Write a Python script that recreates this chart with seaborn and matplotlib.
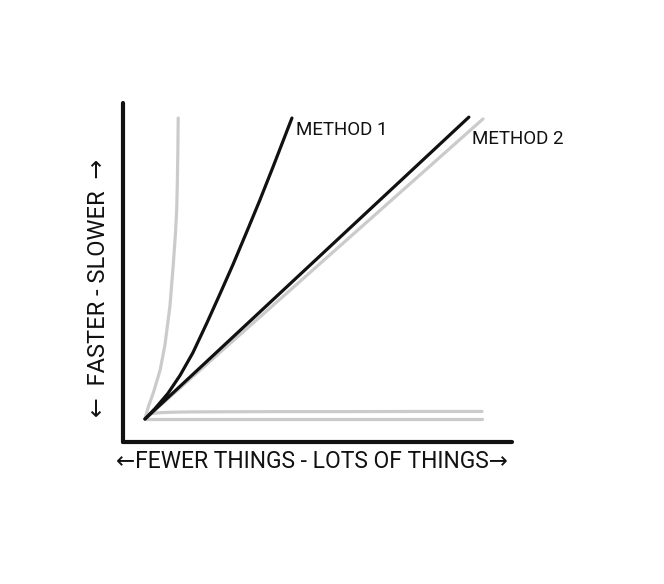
import matplotlib
matplotlib.use("Agg")
import matplotlib.pyplot as plt
import seaborn as sns
import pandas as pd

# ---- data ----
exp_x = [0.0, 0.05, 0.10, 0.25, 0.45, 0.59, 0.74, 0.84, 0.90, 0.94, 0.96, 0.975, 0.985]
exp_y = [0.0, 0.22, 0.41, 0.88, 1.63, 2.45, 3.75, 5.15, 6.1, 6.94, 7.9, 8.9, 10.0]

m1_x = [0.0, 0.30, 0.68, 1.04, 1.42, 1.84, 2.23, 2.61, 3.03, 3.40, 3.80, 4.36]
m1_y = [0.0, 0.35, 0.85, 1.45, 2.20, 3.20, 4.17, 5.13, 6.25, 7.25, 8.38, 10.0]

m2_x = [0.0, 9.61]
m2_y = [0.0, 10.03]

lin_x = [0.0, 10.03]
lin_y = [0.0, 9.97]

log_x = [0.0, 0.05, 0.15, 0.3, 0.45, 0.8, 1.34, 2.5, 4.0, 6.0, 8.0, 10.0]
log_y = [0.0, 0.09, 0.17, 0.195, 0.21, 0.225, 0.235, 0.24, 0.245, 0.245, 0.25, 0.25]

const_x = [0.0, 10.0]
const_y = [0.0, 0.0]

labels = ["METHOD 1", "METHOD 2"]
label_pos = [(4.47, 9.6), (9.7, 9.3)]
xlabel = "\u2190FEWER THINGS - LOTS OF THINGS\u2192"
ylabel = "\u2190  FASTER - SLOWER  \u2192"

sns.set_style("white")
plt.rcParams["font.family"] = ["Roboto", "DejaVu Sans"]

fig = plt.figure(figsize=(6.64, 5.84), dpi=100)
W, H = 664, 584
ax = fig.add_axes([123 / W, (H - 441.5) / H, (512 - 123) / W, (441.5 - 103) / H])

gray = "#cbcbcb"
black = "#111111"
series = [
    (exp_x, exp_y, gray),
    (log_x, log_y, gray),
    (const_x, const_y, gray),
    (lin_x, lin_y, gray),
    (m2_x, m2_y, black),
    (m1_x, m1_y, black),
]
for xs, ys, c in series:
    df = pd.DataFrame({"x": xs, "y": ys})
    sns.lineplot(data=df, x="x", y="y", ax=ax, color=c, lw=2.3,
                 sort=False, estimator=None, solid_capstyle="round",
                 solid_joinstyle="round")

ax.set_xlim(-0.653, 10.89)
ax.set_ylim(-0.748, 10.5)
ax.set_xticks([])
ax.set_yticks([])
ax.set_xlabel("")
ax.set_ylabel("")
for s in ["top", "right"]:
    ax.spines[s].set_visible(False)
for s in ["left", "bottom"]:
    ax.spines[s].set_color("#111111")
    ax.spines[s].set_linewidth(3.0)
    ax.spines[s].set_capstyle("round")

for t, (px, py) in zip(labels, label_pos):
    ax.text(px, py, t, fontsize=13.5, ha="left", va="center", color="#111111")

ax.text(0.486, -0.06, xlabel, transform=ax.transAxes, fontsize=16.5,
        ha="center", va="center", color="#111111")
ax.text(-0.062, 0.453, ylabel, transform=ax.transAxes, fontsize=17,
        ha="center", va="center", rotation=90, color="#111111")

fig.savefig("out.png", dpi=100, facecolor="white")
